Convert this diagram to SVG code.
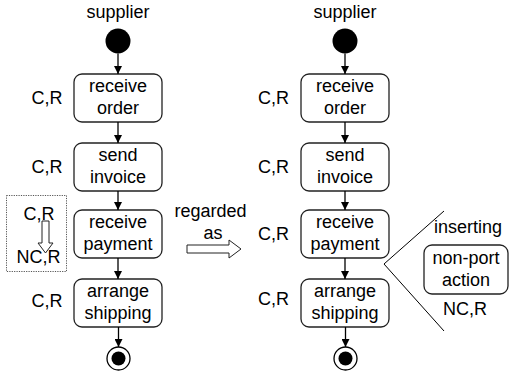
<svg xmlns="http://www.w3.org/2000/svg" width="510" height="375" viewBox="0 0 510 375">
  <defs>
    <marker id="arrow" viewBox="0 0 10 10" refX="10" refY="5" markerWidth="8" markerHeight="8" markerUnits="userSpaceOnUse" orient="auto">
      <path d="M0,0 L10,5 L0,10 Z" fill="#000"/>
    </marker>
  </defs>
  <style>
    text { font-family: "Liberation Sans", Arial, sans-serif; font-size: 18px; fill: #000; }
    .mid { text-anchor: middle; }
    .box { fill: #fff; stroke: #222; stroke-width: 1.3; }
    .flow { stroke: #000; stroke-width: 1.3; fill: none; marker-end: url(#arrow); }
    .hollow { fill: #fff; stroke: #222; stroke-width: 1; }
    .bracket { stroke: #000; stroke-width: 1; fill: none; }
  </style>

  <rect width="510" height="375" fill="#fff"/>

  <!-- left process -->
  <g id="left-supplier"><text class="mid" x="118" y="18">supplier</text></g>
  <g id="left-start"><circle cx="118" cy="41" r="12.5" fill="#000"/></g>
  <g id="left-receive-order">
    <rect class="box" x="74" y="74" width="88" height="48" rx="8"/>
    <text class="mid" x="118" y="92">receive</text>
    <text class="mid" x="118" y="114">order</text>
  </g>
  <g id="left-send-invoice">
    <rect class="box" x="74" y="143" width="88" height="48" rx="8"/>
    <text class="mid" x="118" y="161">send</text>
    <text class="mid" x="118" y="183">invoice</text>
  </g>
  <g id="left-receive-payment">
    <rect class="box" x="74" y="210" width="88" height="48" rx="8"/>
    <text class="mid" x="118" y="228">receive</text>
    <text class="mid" x="118" y="250">payment</text>
  </g>
  <g id="left-arrange-shipping">
    <rect class="box" x="74" y="279" width="88" height="48" rx="8"/>
    <text class="mid" x="118" y="297">arrange</text>
    <text class="mid" x="118" y="319">shipping</text>
  </g>
  <g id="left-end">
    <circle cx="118.5" cy="358.5" r="11.5" fill="#fff" stroke="#000" stroke-width="1.3"/>
    <circle cx="118.5" cy="358.5" r="7" fill="#000"/>
  </g>
  <g id="left-labels">
    <text class="mid" x="47" y="104">C,R</text>
    <text class="mid" x="47" y="173">C,R</text>
    <text class="mid" x="47" y="307">C,R</text>
  </g>
  <g id="left-change">
    <rect x="6.5" y="195.5" width="60" height="76" fill="none" stroke="#555" stroke-width="1" stroke-dasharray="1.2,1.2"/>
    <text class="mid" x="39" y="220">C,R</text>
    <path class="hollow" d="M42,221 H49 V243 H53 L45.5,253 L38,243 H42 Z"/>
    <text class="mid" x="38.5" y="263">NC,R</text>
  </g>

  <!-- transformation note -->
  <g id="regarded-as">
    <text class="mid" x="210.5" y="217">regarded</text>
    <text class="mid" x="213" y="239">as</text>
    <path class="hollow" d="M187,245 H229 V240 L241,249 L229,258 V253 H187 Z"/>
  </g>

  <!-- right process -->
  <g id="right-supplier"><text class="mid" x="345" y="18">supplier</text></g>
  <g id="right-start"><circle cx="345" cy="41" r="12.5" fill="#000"/></g>
  <g id="right-receive-order">
    <rect class="box" x="301" y="74" width="88" height="48" rx="8"/>
    <text class="mid" x="345" y="92">receive</text>
    <text class="mid" x="345" y="114">order</text>
  </g>
  <g id="right-send-invoice">
    <rect class="box" x="301" y="143" width="88" height="48" rx="8"/>
    <text class="mid" x="345" y="161">send</text>
    <text class="mid" x="345" y="183">invoice</text>
  </g>
  <g id="right-receive-payment">
    <rect class="box" x="301" y="210" width="88" height="48" rx="8"/>
    <text class="mid" x="345" y="228">receive</text>
    <text class="mid" x="345" y="250">payment</text>
  </g>
  <g id="right-arrange-shipping">
    <rect class="box" x="301" y="279" width="88" height="48" rx="8"/>
    <text class="mid" x="345" y="297">arrange</text>
    <text class="mid" x="345" y="319">shipping</text>
  </g>
  <g id="right-end">
    <circle cx="345.5" cy="358.5" r="11.5" fill="#fff" stroke="#000" stroke-width="1.3"/>
    <circle cx="345.5" cy="358.5" r="7" fill="#000"/>
  </g>
  <g id="right-labels">
    <text class="mid" x="273.5" y="104">C,R</text>
    <text class="mid" x="273.5" y="173">C,R</text>
    <text class="mid" x="273.5" y="240">C,R</text>
    <text class="mid" x="273.5" y="305">C,R</text>
  </g>

  <!-- inserted action -->
  <g id="insertion">
    <polyline class="bracket" points="444,211 384,264 444,331"/>
    <text class="mid" x="468" y="233">inserting</text>
  </g>
  <g id="non-port-action">
    <rect class="box" x="424" y="245" width="84" height="49" rx="8"/>
    <text class="mid" x="466" y="264">non-port</text>
    <text class="mid" x="466" y="286">action</text>
    <text class="mid" x="465" y="315">NC,R</text>
  </g>

  <!-- connectors -->
  <g id="connectors">
    <line class="flow" x1="118" y1="53.5" x2="118" y2="74"/>
    <line class="flow" x1="118" y1="122" x2="118" y2="143"/>
    <line class="flow" x1="118" y1="191" x2="118" y2="210"/>
    <line class="flow" x1="118" y1="258" x2="118" y2="279"/>
    <line class="flow" x1="118.5" y1="327" x2="118.5" y2="347"/>
    <line class="flow" x1="345" y1="53.5" x2="345" y2="74"/>
    <line class="flow" x1="345" y1="122" x2="345" y2="143"/>
    <line class="flow" x1="345" y1="191" x2="345" y2="210"/>
    <line class="flow" x1="345" y1="258" x2="345" y2="279"/>
    <line class="flow" x1="345.5" y1="327" x2="345.5" y2="347"/>
  </g>
</svg>
